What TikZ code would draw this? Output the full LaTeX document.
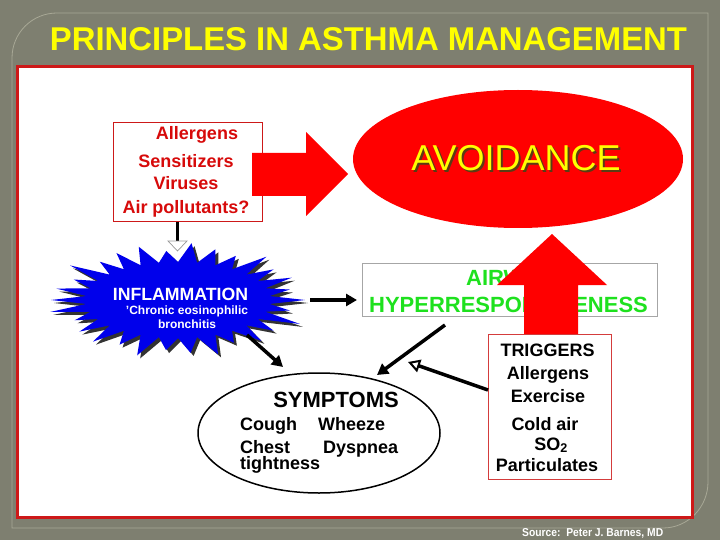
\documentclass[tikz,border=0pt]{standalone}
\usepackage{fontspec}
\setmainfont{Liberation Sans}
\usetikzlibrary{shapes.geometric,arrows.meta}
\definecolor{bggray}{RGB}{126,127,112}
\definecolor{outlinegray}{RGB}{168,168,150}
\definecolor{panelred}{RGB}{205,25,25}
\definecolor{txtred}{RGB}{215,10,10}
\definecolor{brightred}{RGB}{255,0,0}
\definecolor{hypgreen}{RGB}{30,225,30}
\definecolor{burstblue}{RGB}{0,0,235}
\definecolor{titleyellow}{RGB}{255,255,0}
\definecolor{shadowbrown}{RGB}{90,60,20}
\begin{document}
\begin{tikzpicture}[x=1pt,y=-1pt,
  redtxt/.style={text=txtred,inner sep=0,anchor=base,font=\fontsize{18}{18}\selectfont\bfseries},
  blktxt/.style={text=black,inner sep=0,anchor=base,font=\fontsize{18}{18}\selectfont\bfseries},
  grntxt/.style={text=hypgreen,inner sep=0,anchor=base,font=\fontsize{22}{22}\selectfont\bfseries},
  whttxt/.style={text=white,inner sep=0,anchor=base,font=\fontsize{#1}{#1}\selectfont\bfseries},
  blkarrow/.style={line width=3.5pt,-{Triangle[length=11pt,width=12pt]}},
  openarrow/.style={line width=3.5pt,-{Triangle[open,length=12pt,width=13pt,line width=2pt]}},
  framebox/.style={inner sep=0,line width=1pt}
]
\useasboundingbox (0,0) rectangle (720,540);
\fill[bggray] (0,0) rectangle (720,540);
% faint theme outline
\draw[outlinegray,line width=0.8pt] (12,528) -- (12,58) .. controls (12,33) and (32,13) .. (57,13)
  -- (708,13) -- (708,482) .. controls (708,507) and (688,528) .. (663,528) -- cycle;
% title
\node[text=titleyellow,anchor=base,inner sep=0] (title) at (368.5,51)
  {\resizebox{637pt}{23pt}{\bfseries PRINCIPLES IN ASTHMA MANAGEMENT}};
% panel
\draw[panelred,line width=3pt,fill=white] (17,67) rectangle (692,517);

% allergens box
\node[framebox,draw=panelred,minimum width=149pt,minimum height=99pt] (allbox) at (187.5,172.5) {};
\node[redtxt] (al1) at (197,140) {Allergens};
\node[redtxt] (al2) at (186,168) {Sensitizers};
\node[redtxt] (al3) at (186,190) {Viruses};
\node[redtxt] (al4) at (186,214) {Air pollutants?};

% avoidance ellipse
\node[ellipse,fill=brightred,minimum width=330pt,minimum height=138pt,inner sep=0] (avoid) at (518,159) {};
\node[text=titleyellow,anchor=base,inner sep=0,font=\fontsize{36}{36}\selectfont] (avtxt) at (516,171)
  {\rlap{\kern2pt\raisebox{-2pt}{\color{shadowbrown}AVOIDANCE}}AVOIDANCE};

% big right arrow
\fill[brightred] (252,153) -- (306,153) -- (306,132) -- (348,174) -- (306,216) -- (306,196) -- (252,196) -- cycle;

% airway box
\node[framebox,draw=black!35,line width=0.8pt,minimum width=295pt,minimum height=53pt] (airbox) at (509.5,289.5) {};
\node[grntxt] (aw1) at (509,285) {AIRWAY};
\node[grntxt] (aw2) at (508.5,312) {HYPERRESPONSIVENESS};

% up arrow
\fill[brightred] (524,334) -- (524,285) -- (497,285) -- (552,234) -- (607,285) -- (578,285) -- (578,334) -- cycle;

% triggers box
\node[framebox,draw=panelred!85,minimum width=123pt,minimum height=145pt] (trigbox) at (549.5,406.5) {};
\node[blktxt] (tr1) at (547.5,356) {TRIGGERS};
\node[blktxt] (tr2) at (548,379) {Allergens};
\node[blktxt] (tr3) at (548,402) {Exercise};
\node[blktxt] (tr4) at (545,430) {Cold air};
\node[blktxt] (tr5) at (551,450) {SO\textsubscript{2}};
\node[blktxt] (tr6) at (547,471) {Particulates};

% starburst
\coordinate (burst) at (178,300);
\foreach \dx/\col in {3/black!80,0/burstblue}{
\begin{scope}[shift={(178+\dx,300+\dx)}]
\fill[\col] ({92*cos(-6)},{38*sin(-6)})
 \foreach \a/\f in {0/1.0,12/0.9,24/1.05,36/0.93,48/0.98,60/0.88,72/1.02,84/0.95,96/0.9,108/1.04,
   120/0.92,132/1.0,144/0.96,156/0.89,168/1.03,180/1.0,192/0.98,204/0.9,216/1.05,228/0.92,
   240/0.97,252/1.0,264/0.88,276/1.02,288/0.95,300/0.91,312/1.04,324/0.93,336/0.98,348/0.9}
 { -- ({127*\f*cos(\a)},{56*\f*sin(\a)}) -- ({92*cos(\a+6)},{38*sin(\a+6)}) } -- cycle;
\end{scope}}
\node[whttxt=17.7] (inf1) at (180.5,300) {INFLAMMATION};
\node[whttxt=12] (inf2) at (187,314) {'Chronic eosinophilic};
\node[whttxt=12] (inf3) at (187,328) {bronchitis};

% connector allergens -> inflammation
\coordinate (hd) at (177.5,241);
\draw[line width=2.5pt] (allbox.south -| hd) -- (hd);
\draw[black!40,line width=0.7pt,fill=white] (168,241) -- (187,241) -- (177.5,251) -- cycle;

% symptoms
\node[ellipse,draw,line width=1.5pt,minimum width=242pt,minimum height=120pt,inner sep=0] (symp) at (319,433) {};
\node[blktxt,font=\fontsize{22}{22}\selectfont\bfseries] (sy0) at (336,407) {SYMPTOMS};
\node[blktxt,anchor=base west] (sy1) at (240,430) {Cough};
\node[blktxt,anchor=base west] (sy2) at (318,430) {Wheeze};
\node[blktxt,anchor=base west,align=left,font=\fontsize{18}{16}\selectfont\bfseries] (sy3) at (240,469) {Chest\\tightness};
\node[blktxt,anchor=base west] (sy4) at (323,453) {Dyspnea};

% arrows
\coordinate (i2a) at (310,300); \coordinate (i2aend) at (357,300);
\draw[blkarrow] (i2a) -- (i2aend);
\coordinate (i2s) at (247,335); \coordinate (i2send) at (283,367);
\draw[blkarrow] (i2s) -- (i2send);
\coordinate (a2s) at (445,325); \coordinate (a2send) at (377,375);
\draw[blkarrow] (a2s) -- (a2send);
\coordinate (t2s) at (488,390); \coordinate (t2send) at (408,362);
\draw[openarrow] (t2s) -- (t2send);

% source
\node[text=white,anchor=base west,inner sep=0] (src) at (522,536)
  {\resizebox{141pt}{8pt}{\bfseries Source:~~Peter J. Barnes, MD}};
\end{tikzpicture}
\end{document}
